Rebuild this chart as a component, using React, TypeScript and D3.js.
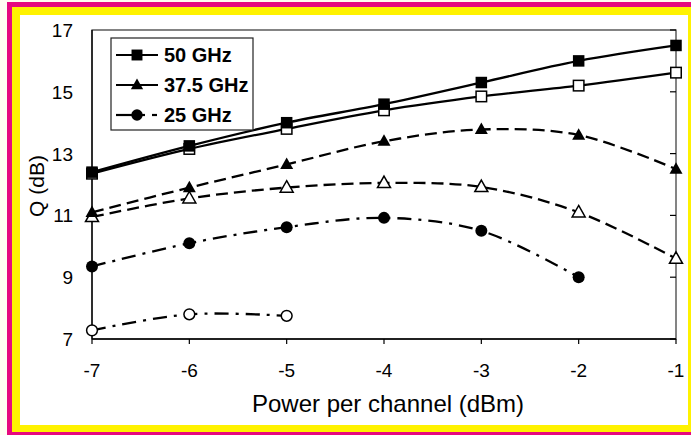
import React from "react";
import * as d3 from "d3";

const W = 691;
const H = 435;

const power = [-7, -6, -5, -4, -3, -2, -1];
const xTicks = [-7, -6, -5, -4, -3, -2, -1];
const yTicks = [7, 9, 11, 13, 15, 17];

// Q (dB) per channel power; null where no measurement exists
const q50Filled = [12.4, 13.25, 14.0, 14.6, 15.3, 16.0, 16.5];
const q50Open = [12.35, 13.15, 13.8, 14.4, 14.85, 15.2, 15.62];
const q375Filled = [11.1, 11.9, 12.65, 13.4, 13.78, 13.6, 12.5];
const q375Open = [10.95, 11.55, 11.9, 12.05, 11.92, 11.1, 9.6];
const q25Filled = [9.35, 10.1, 10.62, 10.92, 10.5, 9.0, null];
const q25Open = [7.28, 7.8, 7.75, null, null, null, null];

const legendLabels = ["50 GHz", "37.5 GHz", "25 GHz"];

type Marker = "square" | "triangle" | "circle";
interface Series {
  values: (number | null)[];
  marker: Marker;
  filled: boolean;
  dash: string;
}

const DASH = "12,6";
const DASHDOT = "14,7,3,7";

const series: Series[] = [
  { values: q50Open, marker: "square", filled: false, dash: "" },
  { values: q50Filled, marker: "square", filled: true, dash: "" },
  { values: q375Open, marker: "triangle", filled: false, dash: DASH },
  { values: q375Filled, marker: "triangle", filled: true, dash: DASH },
  { values: q25Open, marker: "circle", filled: false, dash: DASHDOT },
  { values: q25Filled, marker: "circle", filled: true, dash: DASHDOT },
];

const PX0 = 92;
const PX1 = 676;
const PY0 = 30;
const PY1 = 339;

const x = d3.scaleLinear().domain([-7, -1]).range([PX0, PX1]);
const y = d3.scaleLinear().domain([7, 17]).range([PY1, PY0]);

function MarkerShape({ kind, filled, cx, cy, scale = 1 }: { kind: Marker; filled: boolean; cx: number; cy: number; scale?: number }) {
  const fill = filled ? "#000" : "#fff";
  const sw = filled ? 0 : 1.5;
  if (kind === "square") {
    const s = (filled ? 11.5 : 10.5) * scale;
    return <rect x={cx - s / 2} y={cy - s / 2} width={s} height={s} fill={fill} stroke="#000" strokeWidth={sw} />;
  }
  if (kind === "triangle") {
    const w = 13 * scale;
    const h = 11.5 * scale;
    const p = `M${cx},${cy - h * 0.6}L${cx + w / 2},${cy + h * 0.4}L${cx - w / 2},${cy + h * 0.4}Z`;
    return <path d={p} fill={fill} stroke="#000" strokeWidth={sw} />;
  }
  const r = (filled ? 6 : 5.4) * scale;
  return <circle cx={cx} cy={cy} r={r} fill={fill} stroke="#000" strokeWidth={sw} />;
}

export default function App() {
  const line = d3
    .line<[number, number]>()
    .x((d) => x(d[0]))
    .y((d) => y(d[1]))
    .curve(d3.curveCatmullRom.alpha(0.5));

  const font = "'Liberation Sans', Arial, Helvetica, sans-serif";

  const legendY = [55, 85, 115];
  const legendMarkers: Marker[] = ["square", "triangle", "circle"];

  return (
    <svg width={W} height={H} style={{ position: "absolute", left: 0, top: 0 }} fontFamily={font}>
      <rect x={0} y={0} width={W} height={H} fill="#fffff2" />
      <rect x={7} y={2} width={W} height={H} fill="#e6097f" />
      <rect x={12} y={7} width={W} height={425} fill="#fff200" />
      <rect x={20} y={15} width={668} height={410} fill="#ffffff" />

      {/* plot frame */}
      <rect x={PX0} y={PY0} width={PX1 - PX0} height={PY1 - PY0} fill="none" stroke="#333" strokeWidth={1.2} />
      <line x1={PX0} x2={PX1} y1={PY1} y2={PY1} stroke="#000" strokeWidth={1.5} />
      <line x1={PX0} x2={PX0} y1={PY0} y2={PY1} stroke="#000" strokeWidth={1.3} />

      {/* x ticks */}
      {xTicks.map((t) => (
        <g key={"xt" + t}>
          <line x1={x(t)} x2={x(t)} y1={PY1} y2={PY1 + 5} stroke="#000" strokeWidth={1.2} />
          <text x={x(t)} y={PY1 + 38} textAnchor="middle" fontSize={19}>
            {t}
          </text>
        </g>
      ))}

      {/* y ticks */}
      {yTicks.map((t) => (
        <g key={"yt" + t}>
          <line x1={PX1 - 6} x2={PX1} y1={y(t)} y2={y(t)} stroke="#000" strokeWidth={1.2} />
          <text x={73} y={y(t) + 7} textAnchor="end" fontSize={19}>
            {t}
          </text>
        </g>
      ))}

      <text x={388} y={412} textAnchor="middle" fontSize={24}>
        Power per channel (dBm)
      </text>
      <text transform="translate(44,186) rotate(-90)" textAnchor="middle" fontSize={21}>
        Q (dB)
      </text>

      {/* curves */}
      {series.map((s, i) => {
        const pts = power
          .map((p, j) => [p, s.values[j]] as [number, number | null])
          .filter((d) => d[1] !== null) as [number, number][];
        return (
          <g key={"s" + i}>
            <path d={line(pts) || ""} fill="none" stroke="#000" strokeWidth={2.3} strokeDasharray={s.dash || undefined} />
            {pts.map((d, k) => (
              <MarkerShape key={k} kind={s.marker} filled={s.filled} cx={x(d[0])} cy={y(d[1])} />
            ))}
          </g>
        );
      })}

      {/* legend */}
      <rect x={111} y={38} width={142} height={92} fill="#fff" stroke="#222" strokeWidth={1.2} />
      {legendLabels.map((lab, i) => (
        <g key={lab}>
          {i === 2 ? (
            <>
              <line x1={116} x2={145} y1={legendY[i]} y2={legendY[i]} stroke="#000" strokeWidth={2.2} />
              <line x1={152} x2={157} y1={legendY[i]} y2={legendY[i]} stroke="#000" strokeWidth={2.2} />
            </>
          ) : (
            <line x1={116} x2={158} y1={legendY[i]} y2={legendY[i]} stroke="#000" strokeWidth={2.2} />
          )}
          <MarkerShape kind={legendMarkers[i]} filled={true} cx={137} cy={legendY[i]} scale={0.95} />
          <text x={164} y={legendY[i] + 7} fontSize={20} fontWeight="bold">
            {lab}
          </text>
        </g>
      ))}
    </svg>
  );
}
